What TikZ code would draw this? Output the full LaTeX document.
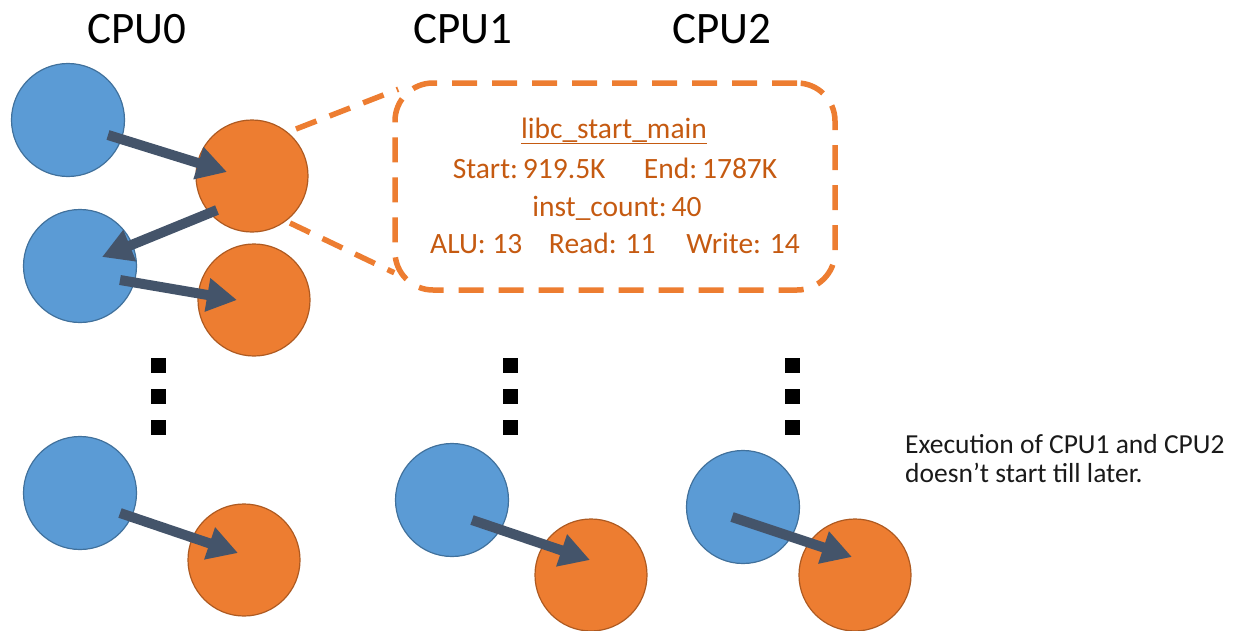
\documentclass[tikz,border=0pt]{standalone}
\usepackage{fontspec}
\setmainfont{Carlito}
\usetikzlibrary{arrows.meta}
\definecolor{bluefill}{HTML}{5B9BD5}
\definecolor{blueline}{HTML}{41719C}
\definecolor{orfill}{HTML}{ED7D31}
\definecolor{orline}{HTML}{AE5A21}
\definecolor{arrcol}{HTML}{44546A}
\definecolor{infotext}{HTML}{C55A11}
\definecolor{notetext}{HTML}{1A1A1A}
\begin{document}
\begin{tikzpicture}[x=1pt,y=-1pt,
  bcirc/.style={circle,draw=blueline,fill=bluefill,line width=1.2pt,minimum size=113pt,inner sep=0pt},
  ocirc/.style={circle,draw=orline,fill=orfill,line width=1.2pt,minimum size=112pt,inner sep=0pt},
  arr/.style={draw=arrcol,line width=10pt,-{Triangle[length=30pt,width=32pt]},arrcol},
  cpulabel/.style={anchor=base,font=\fontsize{45}{52}\selectfont,inner sep=0pt},
  infoline/.style={anchor=base,text=infotext,font=\fontsize{29.5}{34}\selectfont,inner sep=0pt},
  note/.style={anchor=base west,text=notetext,font=\fontsize{27.5}{32}\selectfont,inner sep=0pt},
  dashbox/.style={draw=orfill,line width=5.5pt,dash pattern=on 25pt off 15pt,rounded corners=38pt,minimum width=440pt,minimum height=207pt,inner sep=0pt},
  dashlink/.style={draw=orfill,line width=5.5pt,dash pattern=on 22pt off 14pt},
  vdots/.style={draw=black,line width=15pt,dash pattern=on 15pt off 16pt}
]
\useasboundingbox (0,0) rectangle (1234,630);

% labels
\node[cpulabel] (l0) at (137,43) {CPU0};
\node[cpulabel] (l1) at (463,43) {CPU1};
\node[cpulabel] (l2) at (722,43) {CPU2};

% circles CPU0
\node[bcirc] (b1) at (68,120) {};
\node[ocirc] (o1) at (252,176) {};
\node[bcirc] (b2) at (80,266) {};
\node[ocirc] (o2) at (254,300) {};
\node[bcirc] (b3) at (80,493) {};
\node[ocirc] (o3) at (244,560) {};
% CPU1
\node[bcirc] (b4) at (452,500) {};
\node[ocirc] (o4) at (591,575) {};
% CPU2
\node[bcirc] (b5) at (743,507) {};
\node[ocirc] (o5) at (855,575) {};

% arrows
\draw[arr] ([shift={(40,15)}]b1.center) -- ([shift={(-25,-4)}]o1.center);
\draw[arr] ([shift={(-35,34)}]o1.center) -- ([shift={(22,-9)}]b2.center);
\draw[arr] ([shift={(40,14)}]b2.center) -- ([shift={(-17,0)}]o2.center);
\draw[arr] ([shift={(40,20)}]b3.center) -- ([shift={(-6,-7)}]o3.center);
\draw[arr] ([shift={(20,20)}]b4.center) -- ([shift={(-1,-15)}]o4.center);
\draw[arr] ([shift={(-11,10)}]b5.center) -- ([shift={(-3,-18)}]o5.center);

% info box
\node[dashbox] (info) at (615,186.5) {};
\draw[dashlink] ([shift={(44,-47)}]o1.center) -- ([shift={(6,9)}]info.north west);
\draw[dashlink] ([shift={(38,47)}]o1.center) -- ([shift={(2,-20)}]info.south west);

\node[infoline] (t1) at (614,138) {\underline{libc\_start\_main}};
\node[infoline] (t2) at (615,178) {Start:\,919.5K\hspace{1.3em}End:\,1787K};
\node[infoline] (t3) at (617,216) {inst\_count:\,40};
\node[infoline] (t4) at (615,253) {ALU: 13\hspace{0.9em}Read: 11\hspace{1.05em}Write: 14};

% vertical dots
\coordinate (d0a) at (158,358); \coordinate (d0b) at (158,436);
\coordinate (d1a) at (510,358); \coordinate (d1b) at (510,436);
\coordinate (d2a) at (792,358); \coordinate (d2b) at (792,436);
\draw[vdots] (d0a) -- (d0b);
\draw[vdots] (d1a) -- (d1b);
\draw[vdots] (d2a) -- (d2b);

% note
\node[note] (n1) at (905,453) {Execution of CPU1 and CPU2};
\node[note] (n2) at (905,482) {doesn’t start till later.};
\end{tikzpicture}
\end{document}
